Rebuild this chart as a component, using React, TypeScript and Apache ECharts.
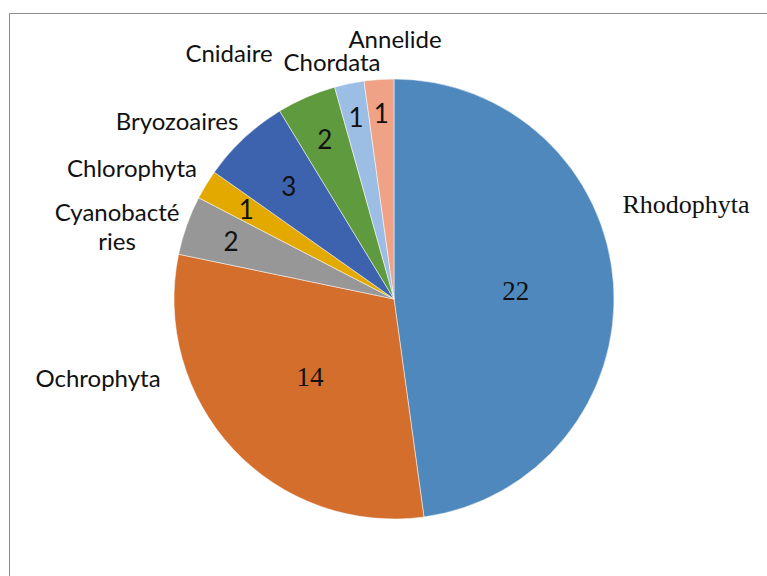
import React, { useEffect, useRef } from "react";
import * as echarts from "echarts";

const categories = [
  "Rhodophyta",
  "Ochrophyta",
  "Cyanobactéries",
  "Chlorophyta",
  "Bryozoaires",
  "Cnidaire",
  "Chordata",
  "Annelide",
];
const values = [22, 14, 2, 1, 3, 2, 1, 1];

const colors = ["#4F88BD", "#D36E2C", "#979797", "#E3A900", "#3D63AE", "#5F9A3E", "#9DBEE4", "#EFA285"];
// display text of the outside name labels (wrapping as in the original)
const nameText: Record<string, string> = { "Cyanobactéries": "Cyanobacté\nries" };
// centre of each name label (px)
const namePos: [number, number][] = [
  [686, 204],
  [98, 377],
  [117, 226],
  [132, 167],
  [177, 120],
  [229, 52],
  [332, 61],
  [395, 38],
];
const serifIdx = [0, 1];
// inner radius used by the value-label ring of each slice (label sits at (r0+r)/2)
const labelInner = [18, 4, 120, 120, 82, 122, 146, 146];

const CX = 394, CY = 299, R = 220;
const SANS = "Lato, 'Open Sans', sans-serif";
const SERIF = "'Liberation Serif', 'DejaVu Serif', serif";

export default function App() {
  const ref = useRef<HTMLDivElement>(null);
  useEffect(() => {
    if (!ref.current) return;
    const chart = echarts.init(ref.current, null, { renderer: "svg" });
    const data = categories.map((c, i) => ({ name: c, value: values[i] }));
    const groups = Array.from(new Set(labelInner));
    const labelSeries = groups.map((r0) => ({
      type: "pie",
      silent: true,
      startAngle: 90,
      clockwise: true,
      center: [CX, CY],
      radius: [r0, R],
      z: 5,
      itemStyle: { color: "transparent", borderWidth: 0 },
      labelLine: { show: false },
      emphasis: { disabled: true },
      data: data.map((d, i) => ({
        ...d,
        label: {
          show: labelInner[i] === r0,
          position: "inside",
          formatter: "{c}",
          color: "#111",
          fontSize: serifIdx.includes(i) ? 27 : 26,
          fontFamily: serifIdx.includes(i) ? SERIF : SANS,
        },
      })),
    }));
    chart.setOption({
      animation: false,
      backgroundColor: "#fff",
      color: colors,
      graphic: [
        {
          type: "rect",
          shape: { x: 9.5, y: 13.5, width: 900, height: 700 },
          style: { fill: "none", stroke: "#8c8c8c", lineWidth: 1 },
          silent: true,
        },
      ],
      series: [
        {
          type: "pie",
          startAngle: 90,
          clockwise: true,
          center: [CX, CY],
          radius: [0, R],
          itemStyle: { borderColor: "#fff", borderWidth: 0.5 },
          labelLine: { show: false },
          emphasis: { disabled: true },
          label: {
            show: true,
            position: "outside",
            overflow: "none",
            color: "#111",
            fontSize: 24,
            lineHeight: 29,
            fontFamily: SANS,
            formatter: (p: any) => nameText[p.name] ?? p.name,
          },
          labelLayout: (p: any) => ({
            x: namePos[p.dataIndex][0],
            y: namePos[p.dataIndex][1],
            align: "center",
            verticalAlign: "middle",
          }),
          data: data.map((d, i) =>
            i === 0
              ? { ...d, label: { fontFamily: SERIF, fontSize: 26, overflow: "none", width: 200 } }
              : i >= 5
              ? { ...d, label: { lineHeight: 22 } }
              : d
          ),
        },
        ...labelSeries,
      ],
    });
    return () => chart.dispose();
  }, []);
  return (
    <div
      ref={ref}
      style={{ position: "fixed", left: 0, top: 0, width: 767, height: 576 }}
    />
  );
}
